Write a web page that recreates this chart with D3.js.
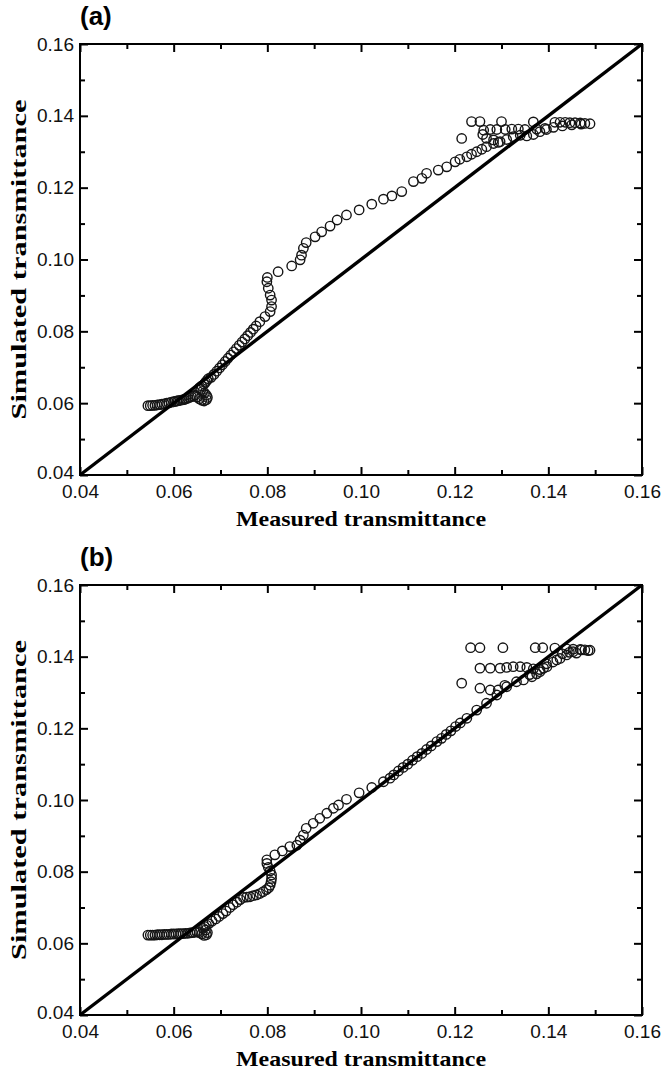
<!DOCTYPE html>
<html>
<head>
<meta charset="utf-8">
<script src="https://cdn.jsdelivr.net/npm/d3@7"></script>
<style>
  html, body { margin: 0; padding: 0; background: #fff; }
  svg { display: block; }
  .tick text { font-family: "Liberation Sans", Arial, sans-serif; font-size: 19px; fill: #111; }
  .axis path { display: none; }
  .axis line { stroke: #000; stroke-width: 2px; }
</style>
</head>
<body>
<svg id="chart" width="662" height="1073"></svg>
<script>
// Tick values shared by both panels.
const majorTicks = [0.04, 0.06, 0.08, 0.10, 0.12, 0.14, 0.16];
const minorTicks = [0.05, 0.07, 0.09, 0.11, 0.13, 0.15];
const panelLabels = ['(a)', '(b)'];
const xTitle = 'Measured transmittance';
const yTitle = 'Simulated transmittance';
const refLine = [[0.04, 0.04], [0.16, 0.16]];

// Panel (a): [measured, simulated]
const pointsA = [
  [0.0545, 0.0593], [0.0550, 0.0593], [0.0555, 0.0594], [0.0560, 0.0594], [0.0565, 0.0595],
  [0.0570, 0.0596], [0.0575, 0.0597], [0.0580, 0.0598], [0.0585, 0.0600], [0.0590, 0.0601],
  [0.0595, 0.0603], [0.0600, 0.0604], [0.0603, 0.0605], [0.0607, 0.0606], [0.0610, 0.0607],
  [0.0614, 0.0608], [0.0618, 0.0609], [0.0622, 0.0610], [0.0626, 0.0612], [0.0630, 0.0614],
  [0.0634, 0.0616], [0.0638, 0.0618], [0.0642, 0.0620], [0.0646, 0.0622], [0.0650, 0.0617],
  [0.0655, 0.0612], [0.0660, 0.0608], [0.0665, 0.0606], [0.0670, 0.0610], [0.0672, 0.0616],
  [0.0670, 0.0622], [0.0666, 0.0628], [0.0662, 0.0633], [0.0658, 0.0638], [0.0655, 0.0643],
  [0.0660, 0.0648], [0.0665, 0.0653], [0.0668, 0.0658], [0.0671, 0.0663], [0.0674, 0.0668],
  [0.0680, 0.0672], [0.0686, 0.0680], [0.0692, 0.0689], [0.0698, 0.0698], [0.0704, 0.0707],
  [0.0710, 0.0716], [0.0716, 0.0725], [0.0722, 0.0734], [0.0728, 0.0743], [0.0734, 0.0752],
  [0.0740, 0.0761], [0.0746, 0.0770], [0.0752, 0.0779], [0.0758, 0.0788], [0.0764, 0.0797],
  [0.0770, 0.0806], [0.0776, 0.0815], [0.0784, 0.0827], [0.0795, 0.0841], [0.0806, 0.0855],
  [0.0809, 0.0869], [0.0809, 0.0887], [0.0806, 0.0901], [0.0802, 0.0920], [0.0799, 0.0938],
  [0.0800, 0.0950], [0.0823, 0.0966], [0.0852, 0.0982], [0.0870, 0.0999], [0.0873, 0.1012],
  [0.0877, 0.1031], [0.0883, 0.1047], [0.0902, 0.1063], [0.0916, 0.1077], [0.0934, 0.1093],
  [0.0949, 0.1110], [0.0969, 0.1124], [0.0996, 0.1138], [0.1023, 0.1154], [0.1048, 0.1168],
  [0.1066, 0.1177], [0.1087, 0.1189], [0.1112, 0.1217], [0.1130, 0.1226], [0.1140, 0.1240],
  [0.1165, 0.1249], [0.1183, 0.1258], [0.1201, 0.1272], [0.1211, 0.1279], [0.1226, 0.1286],
  [0.1236, 0.1293], [0.1247, 0.1300], [0.1258, 0.1307], [0.1268, 0.1314], [0.1283, 0.1323],
  [0.1297, 0.1328], [0.1311, 0.1334], [0.1325, 0.1342], [0.1340, 0.1346], [0.1354, 0.1344],
  [0.1368, 0.1348], [0.1382, 0.1356], [0.1396, 0.1362], [0.1411, 0.1368], [0.1215, 0.1337],
  [0.1236, 0.1384], [0.1254, 0.1384], [0.1300, 0.1384], [0.1368, 0.1383], [0.1414, 0.1382],
  [0.1425, 0.1382], [0.1436, 0.1382], [0.1446, 0.1381], [0.1457, 0.1381], [0.1468, 0.1380],
  [0.1478, 0.1379], [0.1489, 0.1378], [0.1262, 0.1360], [0.1276, 0.1362], [0.1290, 0.1362],
  [0.1308, 0.1362], [0.1322, 0.1363], [0.1336, 0.1363], [0.1350, 0.1362], [0.1375, 0.1363],
  [0.1393, 0.1365], [0.1268, 0.1337], [0.1283, 0.1333], [0.1293, 0.1326], [0.1260, 0.1348],
  [0.1430, 0.1372], [0.1450, 0.1375], [0.1470, 0.1377]
];

// Panel (b): [measured, simulated]
const pointsB = [
  [0.0545, 0.0623], [0.0550, 0.0623], [0.0555, 0.0623], [0.0560, 0.0623], [0.0565, 0.0624],
  [0.0570, 0.0624], [0.0575, 0.0624], [0.0580, 0.0625], [0.0585, 0.0625], [0.0590, 0.0625],
  [0.0595, 0.0626], [0.0600, 0.0626], [0.0605, 0.0626], [0.0610, 0.0627], [0.0615, 0.0627],
  [0.0620, 0.0627], [0.0625, 0.0628], [0.0630, 0.0628], [0.0635, 0.0629], [0.0640, 0.0630],
  [0.0645, 0.0631], [0.0650, 0.0632], [0.0655, 0.0630], [0.0660, 0.0626], [0.0665, 0.0622],
  [0.0670, 0.0624], [0.0672, 0.0630], [0.0668, 0.0637], [0.0663, 0.0642], [0.0666, 0.0647],
  [0.0670, 0.0651], [0.0675, 0.0655], [0.0682, 0.0662], [0.0690, 0.0668], [0.0697, 0.0675],
  [0.0705, 0.0683], [0.0712, 0.0690], [0.0720, 0.0700], [0.0727, 0.0708], [0.0735, 0.0715],
  [0.0742, 0.0722], [0.0749, 0.0728], [0.0756, 0.0729], [0.0763, 0.0730], [0.0770, 0.0733],
  [0.0777, 0.0735], [0.0784, 0.0739], [0.0791, 0.0744], [0.0798, 0.0750], [0.0803, 0.0755],
  [0.0806, 0.0762], [0.0808, 0.0772], [0.0809, 0.0781], [0.0809, 0.0791], [0.0806, 0.0802],
  [0.0802, 0.0812], [0.0799, 0.0823], [0.0799, 0.0833], [0.0816, 0.0847], [0.0832, 0.0858],
  [0.0848, 0.0870], [0.0863, 0.0874], [0.0870, 0.0888], [0.0877, 0.0902], [0.0883, 0.0921],
  [0.0898, 0.0935], [0.0912, 0.0949], [0.0927, 0.0963], [0.0941, 0.0977], [0.0952, 0.0986],
  [0.0969, 0.1002], [0.0996, 0.1020], [0.1023, 0.1035], [0.1048, 0.1051], [0.1062, 0.1061],
  [0.1070, 0.1070], [0.1080, 0.1081], [0.1090, 0.1091], [0.1100, 0.1100], [0.1110, 0.1111],
  [0.1120, 0.1121], [0.1130, 0.1130], [0.1140, 0.1141], [0.1150, 0.1151], [0.1162, 0.1163],
  [0.1172, 0.1172], [0.1182, 0.1183], [0.1192, 0.1193], [0.1202, 0.1205], [0.1212, 0.1215],
  [0.1226, 0.1228], [0.1247, 0.1251], [0.1268, 0.1270], [0.1290, 0.1293], [0.1311, 0.1316],
  [0.1332, 0.1330], [0.1347, 0.1335], [0.1365, 0.1344], [0.1382, 0.1358], [0.1397, 0.1372],
  [0.1418, 0.1391], [0.1439, 0.1405], [0.1453, 0.1414], [0.1471, 0.1419], [0.1485, 0.1417],
  [0.1234, 0.1425], [0.1254, 0.1425], [0.1303, 0.1425], [0.1372, 0.1425], [0.1388, 0.1425],
  [0.1414, 0.1424], [0.1439, 0.1422], [0.1453, 0.1421], [0.1468, 0.1420], [0.1478, 0.1419],
  [0.1489, 0.1418], [0.1254, 0.1368], [0.1276, 0.1368], [0.1297, 0.1368], [0.1311, 0.1370],
  [0.1325, 0.1372], [0.1340, 0.1372], [0.1354, 0.1370], [0.1368, 0.1366], [0.1382, 0.1364],
  [0.1396, 0.1380], [0.1215, 0.1326], [0.1254, 0.1312], [0.1276, 0.1307], [0.1293, 0.1307],
  [0.1307, 0.1320], [0.1360, 0.1350], [0.1375, 0.1352], [0.1390, 0.1368], [0.1410, 0.1385],
  [0.1425, 0.1395], [0.1430, 0.1408], [0.1445, 0.1412], [0.1460, 0.1410]
];

const width = 662;
const margin = {left: 80, right: 20};
const panels = [
  {points: pointsA, label: panelLabels[0], top: 44, bottom: 475},
  {points: pointsB, label: panelLabels[1], top: 585, bottom: 1015},
];

const svg = d3.select('#chart');
const fmt = d3.format('.2f');

panels.forEach((p) => {
  const x = d3.scaleLinear().domain([0.04, 0.16]).range([margin.left, width - margin.right]);
  const y = d3.scaleLinear().domain([0.04, 0.16]).range([p.bottom, p.top]);
  const g = svg.append('g');

  // Inward major + minor ticks on all four sides.
  g.append('g').attr('class', 'axis').attr('transform', `translate(0,${p.bottom})`)
      .call(d3.axisBottom(x).tickValues(majorTicks).tickFormat(fmt).tickSize(-8).tickPadding(10));
  g.append('g').attr('class', 'axis').attr('transform', `translate(0,${p.bottom})`)
      .call(d3.axisBottom(x).tickValues(minorTicks).tickFormat('').tickSize(-5));
  g.append('g').attr('class', 'axis').attr('transform', `translate(0,${p.top})`)
      .call(d3.axisTop(x).tickValues(majorTicks).tickFormat('').tickSize(-8));
  g.append('g').attr('class', 'axis').attr('transform', `translate(0,${p.top})`)
      .call(d3.axisTop(x).tickValues(minorTicks).tickFormat('').tickSize(-5));
  g.append('g').attr('class', 'axis').attr('transform', `translate(${margin.left},0)`)
      .call(d3.axisLeft(y).tickValues(majorTicks).tickFormat(fmt).tickSize(-8).tickPadding(6));
  g.append('g').attr('class', 'axis').attr('transform', `translate(${margin.left},0)`)
      .call(d3.axisLeft(y).tickValues(minorTicks).tickFormat('').tickSize(-5));
  g.append('g').attr('class', 'axis').attr('transform', `translate(${width - margin.right},0)`)
      .call(d3.axisRight(y).tickValues(majorTicks).tickFormat('').tickSize(-8));
  g.append('g').attr('class', 'axis').attr('transform', `translate(${width - margin.right},0)`)
      .call(d3.axisRight(y).tickValues(minorTicks).tickFormat('').tickSize(-5));

  g.selectAll('.axis .tick text').filter(function() { return this.textContent === ''; }).remove();
  // lift the lowest y label a touch so it clears the x label below it
  g.selectAll('.axis .tick text').filter(function() {
    return this.textContent === '0.04' && this.getAttribute('x') !== null && +this.getAttribute('x') < 0;
  }).attr('dy', '0.2em');

  // Frame
  g.append('rect')
      .attr('x', x(0.04)).attr('y', y(0.16))
      .attr('width', x(0.16) - x(0.04)).attr('height', y(0.04) - y(0.16))
      .attr('fill', 'none').attr('stroke', '#000').attr('stroke-width', 2);

  // Data circles
  g.append('g').selectAll('circle').data(p.points).join('circle')
      .attr('cx', (d) => x(d[0])).attr('cy', (d) => y(d[1])).attr('r', 4.7)
      .attr('fill', 'none').attr('stroke', '#151515').attr('stroke-width', 1.4);

  // 1:1 line
  g.append('path').datum(refLine)
      .attr('d', d3.line().x((d) => x(d[0])).y((d) => y(d[1])))
      .attr('stroke', '#000').attr('stroke-width', 3.4).attr('fill', 'none');

  // Panel letter
  g.append('text').attr('x', margin.left).attr('y', p.top - 19)
      .attr('font-family', '"Liberation Sans", Arial, sans-serif')
      .attr('font-weight', 'bold').attr('font-size', 26).text(p.label);

  // Axis titles
  g.append('text').attr('x', (x(0.04) + x(0.16)) / 2).attr('y', p.bottom + 51)
      .attr('text-anchor', 'middle')
      .attr('font-family', '"Liberation Serif", "Times New Roman", serif')
      .attr('font-weight', 'bold').attr('font-size', 22)
      .attr('textLength', 250).attr('lengthAdjust', 'spacingAndGlyphs')
      .text(xTitle);
  const cy = (p.top + p.bottom) / 2;
  g.append('text').attr('transform', `translate(26,${cy}) rotate(-90)`)
      .attr('text-anchor', 'middle')
      .attr('font-family', '"Liberation Serif", "Times New Roman", serif')
      .attr('font-weight', 'bold').attr('font-size', 22)
      .attr('textLength', 320).attr('lengthAdjust', 'spacingAndGlyphs')
      .text(yTitle);
});
</script>
</body>
</html>
